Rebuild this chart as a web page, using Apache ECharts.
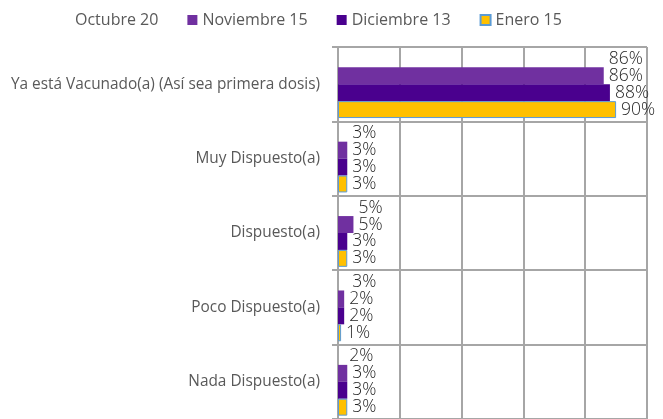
<!DOCTYPE html>
<html>
<head>
<meta charset="utf-8">
<script src="https://cdn.jsdelivr.net/npm/echarts@6/dist/echarts.min.js"></script>
<style>
  html, body { margin: 0; padding: 0; background: #fff; }
  #chart { width: 663px; height: 419px; }
</style>
</head>
<body>
<div id="chart"></div>
<script>
// categorias (de arriba hacia abajo)
const categorias = [
    'Ya está Vacunado(a) (Así sea primera dosis)',
    'Muy Dispuesto(a)',
    'Dispuesto(a)',
    'Poco Dispuesto(a)',
    'Nada Dispuesto(a)'
];

const octubre20 = [86, 3, 5, 3, 2];
const noviembre15 = [86, 3, 5, 2, 3];
const diciembre13 = [88, 3, 3, 2, 3];
const enero15 = [90, 3, 3, 1, 3];

const ejeTicks = [0, 20, 40, 60, 80, 100];

const fuente = '"Open Sans", "Noto Sans", sans-serif';

function serie(nombre, datos, color, borde) {
    return {
        name: nombre,
        type: 'bar',
        data: datos,
        barGap: '0%',
        barCategoryGap: '9%',
        itemStyle: {
            color: color,
            borderColor: borde || 'transparent',
            borderWidth: borde ? 1 : 0
        },
        label: {
            show: true,
            position: 'right',
            distance: 5,
            formatter: '{c}%',
            fontFamily: fuente,
            fontSize: 17.5,
            fontWeight: 300,
            color: '#262626'
        },
        emphasis: { disabled: true }
    };
}

const chart = echarts.init(document.getElementById('chart'));

const option = {
    animation: false,
    textStyle: { fontFamily: fuente },
    legend: {
        left: 55,
        top: 7,
        itemWidth: 10,
        itemHeight: 10,
        itemGap: 29,
        icon: 'rect',
        textStyle: { fontSize: 16, color: '#595959', fontFamily: fuente },
        data: ['Octubre 20', 'Noviembre 15', 'Diciembre 13', 'Enero 15']
    },
    grid: {
        left: 338,
        right: 16,
        top: 47,
        bottom: -3,
        containLabel: false
    },
    xAxis: {
        type: 'value',
        min: ejeTicks[0],
        max: ejeTicks[ejeTicks.length - 1],
        interval: ejeTicks[1] - ejeTicks[0],
        axisLabel: { show: false },
        axisLine: { show: false },
        axisTick: { show: false },
        splitLine: { show: true, lineStyle: { color: '#A6A6A6', width: 2 } }
    },
    yAxis: {
        type: 'category',
        inverse: true,
        data: categorias,
        axisLine: { show: true, lineStyle: { color: '#A6A6A6', width: 2 } },
        axisTick: { show: true, length: 6, lineStyle: { color: '#A6A6A6', width: 2 } },
        axisLabel: { margin: 18, fontSize: 15.4, color: '#595959', fontFamily: fuente },
        splitLine: { show: true, lineStyle: { color: '#A6A6A6', width: 2 } }
    },
    series: [
        serie('Octubre 20', octubre20, 'transparent'),
        serie('Noviembre 15', noviembre15, '#7030A0'),
        serie('Diciembre 13', diciembre13, '#4A008E'),
        serie('Enero 15', enero15, '#FFC000', '#5B9BD5')
    ]
};

chart.setOption(option);
</script>
</body>
</html>
